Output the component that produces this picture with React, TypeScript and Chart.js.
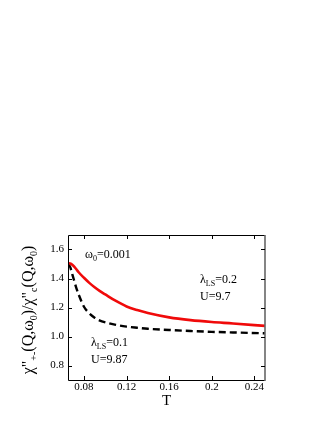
import React, { useEffect, useRef } from "react";
import { Chart, registerables } from "chart.js";

Chart.register(...registerables);

const T_VALUES = [0.065, 0.067, 0.069, 0.071, 0.073, 0.075, 0.08, 0.085, 0.09, 0.095, 0.1, 0.11, 0.12, 0.13, 0.14, 0.16, 0.18, 0.2, 0.22, 0.25];
const RED_SERIES = [1.505, 1.503, 1.495, 1.48, 1.462, 1.443, 1.405, 1.37, 1.34, 1.313, 1.29, 1.245, 1.207, 1.182, 1.162, 1.132, 1.113, 1.1, 1.09, 1.073];
const BLACK_SERIES = [1.5, 1.48, 1.43, 1.38, 1.33, 1.29, 1.205, 1.16, 1.13, 1.11, 1.098, 1.08, 1.068, 1.06, 1.053, 1.045, 1.038, 1.032, 1.028, 1.022];
const X_TICKS = [0.08, 0.12, 0.16, 0.2, 0.24];
const X_TICK_LABELS = ["0.08", "0.12", "0.16", "0.2", "0.24"];
const Y_TICKS = [0.8, 1.0, 1.2, 1.4, 1.6];
const Y_TICK_LABELS = ["0.8", "1.0", "1.2", "1.4", "1.6"];

const SERIF = "'Liberation Serif', 'DejaVu Serif', serif";

type Run = { t: string; size: number; dy: number };

function drawRuns(ctx: CanvasRenderingContext2D, runs: Run[], x: number, y: number, center = false) {
  let total = 0;
  for (const r of runs) {
    ctx.font = `${r.size}px ${SERIF}`;
    total += ctx.measureText(r.t).width;
  }
  let cx = center ? x - total / 2 : x;
  ctx.textBaseline = "alphabetic";
  ctx.textAlign = "left";
  for (const r of runs) {
    ctx.font = `${r.size}px ${SERIF}`;
    ctx.fillText(r.t, cx, y + r.dy);
    cx += ctx.measureText(r.t).width;
  }
}

const annotPlugin = {
  id: "annot",
  afterDraw(chart: any) {
    const ctx: CanvasRenderingContext2D = chart.ctx;
    const { left, right, top, bottom } = chart.chartArea;
    const xs = chart.scales.x;
    const ys = chart.scales.y;
    ctx.save();
    ctx.strokeStyle = "#000";
    ctx.lineWidth = 1;
    // frame
    ctx.beginPath();
    ctx.moveTo(left + 0.5, top + 0.5);
    ctx.lineTo(right, top + 0.5);
    ctx.moveTo(left + 0.5, top + 0.5);
    ctx.lineTo(left + 0.5, bottom + 0.5);
    ctx.lineTo(right, bottom + 0.5);
    ctx.stroke();
    ctx.strokeStyle = "#666";
    ctx.lineWidth = 1.6;
    ctx.beginPath();
    ctx.moveTo(right, top);
    ctx.lineTo(right, bottom + 1);
    ctx.stroke();
    // ticks
    ctx.strokeStyle = "#000";
    ctx.lineWidth = 1;
    ctx.beginPath();
    for (const v of X_TICKS) {
      const px = Math.round(xs.getPixelForValue(v)) + 0.5;
      ctx.moveTo(px, bottom);
      ctx.lineTo(px, bottom - 4);
      ctx.moveTo(px, top);
      ctx.lineTo(px, top + 4);
    }
    for (const v of Y_TICKS) {
      const py = Math.round(ys.getPixelForValue(v)) + 0.5;
      ctx.moveTo(left, py);
      ctx.lineTo(left + 4, py);
      ctx.moveTo(right, py);
      ctx.lineTo(right - 4, py);
    }
    ctx.stroke();

    ctx.fillStyle = "#000";
    // tick labels
    ctx.font = `11px ${SERIF}`;
    ctx.textAlign = "center";
    ctx.textBaseline = "top";
    X_TICKS.forEach((v, i) => {
      ctx.fillText(X_TICK_LABELS[i], xs.getPixelForValue(v), bottom + 2);
    });
    ctx.textAlign = "right";
    ctx.textBaseline = "middle";
    Y_TICKS.forEach((v, i) => {
      ctx.fillText(Y_TICK_LABELS[i], left - 4, ys.getPixelForValue(v));
    });

    // annotations
    drawRuns(ctx, [
      { t: "ω", size: 12, dy: 0 },
      { t: "0", size: 8, dy: 3 },
      { t: "=0.001", size: 12, dy: 0 },
    ], 85, 258);
    drawRuns(ctx, [
      { t: "λ", size: 12, dy: 0 },
      { t: "LS", size: 8, dy: 3 },
      { t: "=0.2", size: 12, dy: 0 },
    ], 200, 283);
    drawRuns(ctx, [{ t: "U=9.7", size: 12, dy: 0 }], 200, 300);
    drawRuns(ctx, [
      { t: "λ", size: 12, dy: 0 },
      { t: "LS", size: 8, dy: 3 },
      { t: "=0.1", size: 12, dy: 0 },
    ], 91, 346);
    drawRuns(ctx, [{ t: "U=9.87", size: 12, dy: 0 }], 91, 363);

    // x title
    drawRuns(ctx, [{ t: "T", size: 15, dy: 0 }], (left + right) / 2, 405, true);

    // y title
    ctx.save();
    ctx.translate(33, 310);
    ctx.rotate(-Math.PI / 2);
    drawRuns(ctx, [
      { t: "χ\"", size: 16, dy: 0 },
      { t: "+-", size: 10, dy: 4 },
      { t: "(Q,ω", size: 16, dy: 0 },
      { t: "0", size: 10, dy: 4 },
      { t: ")/χ\"", size: 16, dy: 0 },
      { t: "c", size: 10, dy: 4 },
      { t: "(Q,ω", size: 16, dy: 0 },
      { t: "0", size: 10, dy: 4 },
      { t: ")", size: 16, dy: 0 },
    ], 0, 0, true);
    ctx.restore();
    ctx.restore();
  },
};

export default function App() {
  const ref = useRef<HTMLCanvasElement>(null);
  useEffect(() => {
    if (!ref.current) return;
    const chart = new Chart(ref.current, {
      type: "line",
      data: {
        datasets: [
          {
            data: T_VALUES.map((t, i) => ({ x: t, y: RED_SERIES[i] })),
            borderColor: "rgb(240,10,10)",
            borderWidth: 2.6,
            pointRadius: 0,
            cubicInterpolationMode: "monotone",
            fill: false,
          },
          {
            data: T_VALUES.map((t, i) => ({ x: t, y: BLACK_SERIES[i] })),
            borderColor: "#000",
            borderWidth: 2.4,
            borderDash: [7, 4],
            pointRadius: 0,
            cubicInterpolationMode: "monotone",
            fill: false,
          },
        ],
      },
      options: {
        animation: false,
        responsive: false,
        events: [],
        layout: { padding: { left: 28, right: 62, top: 235, bottom: 28 } },
        plugins: { legend: { display: false }, tooltip: { enabled: false } },
        scales: {
          x: {
            type: "linear",
            min: 0.065,
            max: 0.25,
            grid: { display: false },
            border: { display: false },
            ticks: { display: false },
            afterFit: (s: any) => {
              s.height = 15;
            },
          },
          y: {
            type: "linear",
            min: 0.7,
            max: 1.7,
            grid: { display: false },
            border: { display: false },
            ticks: { display: false },
            afterFit: (s: any) => {
              s.width = 40;
            },
          },
        },
      },
      plugins: [annotPlugin],
    });
    return () => chart.destroy();
  }, []);
  return (
    <canvas
      ref={ref}
      width={327}
      height={423}
      style={{ position: "absolute", left: 0, top: 0, display: "block" }}
    />
  );
}
